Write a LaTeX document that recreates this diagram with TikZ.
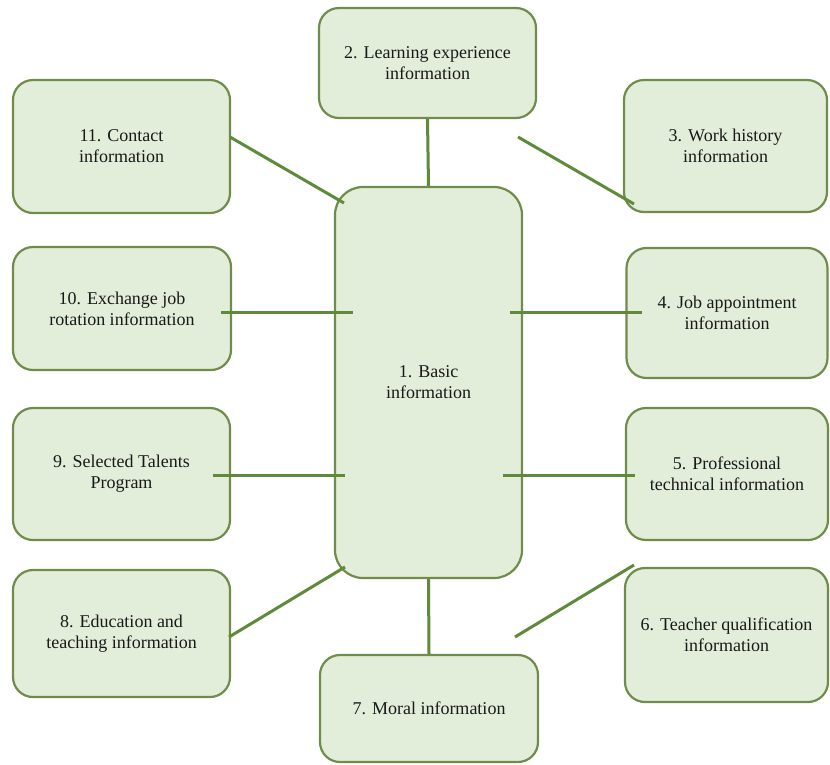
\documentclass[tikz,border=0pt]{standalone}
\usepackage{fontspec}
\setmainfont{Liberation Serif}
\usetikzlibrary{calc}
\definecolor{boxfill}{HTML}{E3EEDA}
\definecolor{boxedge}{HTML}{6F8C4A}
\definecolor{linkgreen}{HTML}{5E8A3A}
\begin{document}
\begin{tikzpicture}[x=1pt,y=-1pt,
  infobox/.style={draw=boxedge,fill=boxfill,line width=2.2pt,rounded corners=20pt,
    align=center,font=\fontsize{18}{21}\selectfont,inner sep=0pt,text=black!90},
  link/.style={draw=linkgreen,line width=3pt}]
\useasboundingbox (0,0) rectangle (830,764);

% central box
\node[infobox,rounded corners=28pt,minimum width=187pt,minimum height=391pt] (n1) at (428.5,382.5) {1. Basic\\information};

% surrounding boxes
\node[infobox,minimum width=217pt,minimum height=110pt] (n2) at (427.5,63) {2. Learning experience\\information};
\node[infobox,minimum width=203pt,minimum height=132pt] (n3) at (725.5,146) {3. Work history\\information};
\node[infobox,minimum width=201pt,minimum height=130pt] (n4) at (727,313) {4. Job appointment\\information};
\node[infobox,minimum width=202pt,minimum height=132pt] (n5) at (727,474) {5. Professional\\technical information};
\node[infobox,minimum width=203pt,minimum height=134pt] (n6) at (726.5,635) {6. Teacher qualification\\information};
\node[infobox,minimum width=218pt,minimum height=107pt] (n7) at (429,708.5) {7. Moral information};
\node[infobox,minimum width=217pt,minimum height=127pt] (n8) at (121.5,633.5) {8. Education and\\teaching information};
\node[infobox,minimum width=217pt,minimum height=132pt] (n9) at (121.5,474) {9. Selected Talents\\Program};
\node[infobox,minimum width=218pt,minimum height=123pt] (n10) at (122,308.5) {10. Exchange job\\rotation information};
\node[infobox,minimum width=217pt,minimum height=133pt] (n11) at (121.5,146.5) {11. Contact\\information};

% connector end points
\coordinate (a3) at (518,137);  \coordinate (b3) at (634,204);
\coordinate (a4) at (510,312);  \coordinate (b4) at (642,312);
\coordinate (a5) at (503,475);  \coordinate (b5) at (635,475);
\coordinate (a6) at (515,637);  \coordinate (b6) at (634,565);
\coordinate (a8) at (229,637);  \coordinate (b8) at (345,567);
\coordinate (a9) at (213,475);  \coordinate (b9) at (345,475);
\coordinate (a10) at (221,312); \coordinate (b10) at (353,312);
\coordinate (a11) at (230,137); \coordinate (b11) at (344,203);

% connectors
\draw[link] (n2.south) -- (n1.north);
\draw[link] (n1.south) -- (n7.north);
\draw[link] (a3) -- (b3);
\draw[link] (a4) -- (b4);
\draw[link] (a5) -- (b5);
\draw[link] (a6) -- (b6);
\draw[link] (a8) -- (b8);
\draw[link] (a9) -- (b9);
\draw[link] (a10) -- (b10);
\draw[link] (a11) -- (b11);
\end{tikzpicture}
\end{document}
